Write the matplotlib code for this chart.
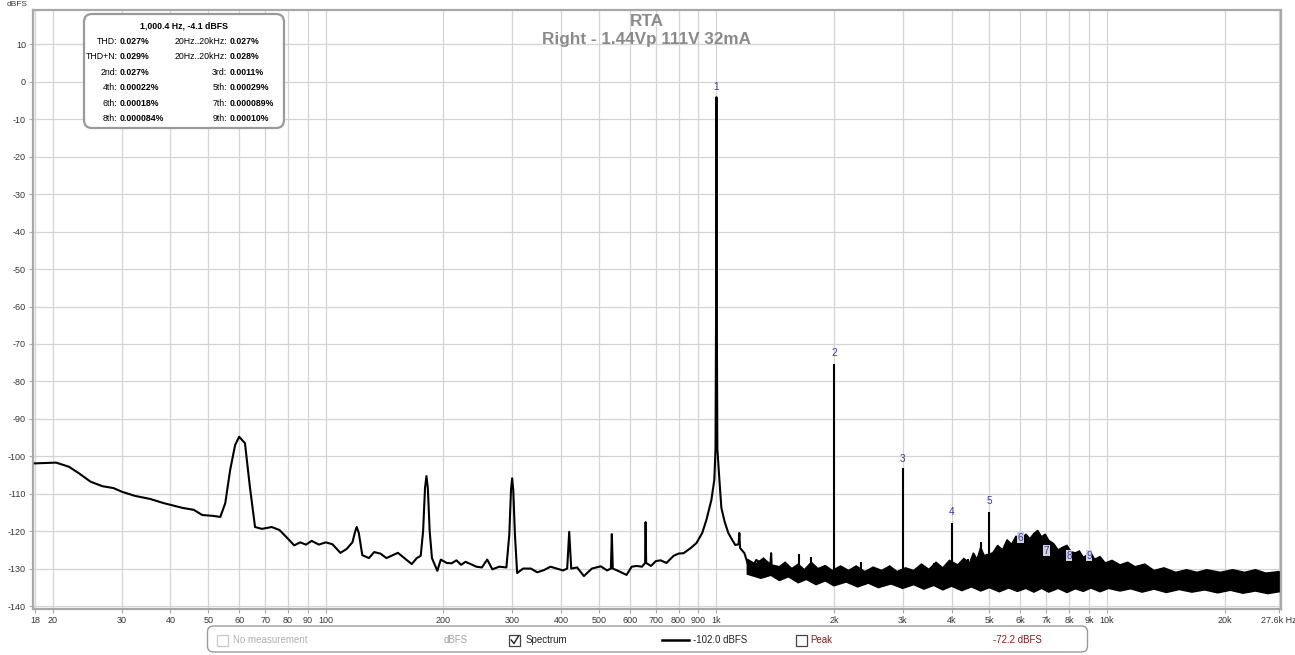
import matplotlib
matplotlib.use("Agg")
import matplotlib.pyplot as plt
from matplotlib.patches import FancyBboxPatch, Rectangle
from matplotlib.lines import Line2D

plt.rcParams['font.family'] = ['Liberation Sans', 'DejaVu Sans']
plt.rcParams['axes.unicode_minus'] = False

# spectrum trace, 18 Hz .. 1.5 kHz
trace_f = [18, 20.4, 22, 23.3, 25, 26.8, 28.6, 30.1, 32.5, 35.5, 38.4, 43, 45.9, 48.3,
           51.2, 53.7, 55.3, 56.9, 58.6, 60, 62.1, 63.9, 65.9, 68.6, 72.7, 76.1, 79.8,
           83, 86, 89, 92, 96, 100, 104, 109, 113, 117, 119, 120, 121.5, 124, 129, 133,
           138, 143, 148, 153, 159, 166, 171, 175, 177.5, 179.5, 181, 182.5, 184.5, 187,
           193, 197, 204, 210, 216, 222, 228, 235, 243, 251, 259, 267, 278, 290, 295,
           298, 300, 302, 305, 309, 320, 335, 348, 362, 376, 390, 405, 415, 420, 425,
           440, 458, 480, 506, 525, 537, 540, 543, 560, 589, 607, 625, 645, 657, 659,
           661, 680, 700, 720, 745, 777, 800, 824, 860, 889, 920, 943, 971, 988, 995,
           998.5, 1000.4, 1002.3, 1006, 1018, 1030, 1050, 1073, 1100, 1118, 1140, 1145,
           1150, 1180, 1221, 1265, 1300, 1340, 1375, 1381, 1387, 1430, 1480]
trace_db = [-101.9, -101.7, -102.8, -104.5, -106.8, -108, -108.5, -109.5, -110.6, -111.4,
            -112.5, -113.8, -114.3, -115.7, -115.9, -116.2, -112.5, -103.7, -97, -94.8,
            -96.5, -108, -118.9, -119.4, -118.9, -119.7, -121.9, -123.8, -123, -123.6,
            -122.6, -123.6, -123, -123.5, -125.8, -124.8, -123, -120, -118.9, -120.5,
            -126.4, -127.2, -125.6, -126, -127.2, -126.5, -125.8, -127.2, -128.8, -127.2,
            -126.6, -120, -108.5, -105.3, -108.5, -120, -127.2, -130.6, -127.6, -128.5,
            -128.6, -127.8, -129, -128.2, -128.8, -129.5, -129.7, -127.6, -130.2, -129.5,
            -129.7, -121, -109, -105.9, -109, -121, -131.2, -130, -130, -131, -130.4,
            -129.5, -130, -130.5, -130, -120.2, -130, -129.7, -132, -130, -129.4, -130.5,
            -130, -120.8, -130, -130.6, -131.7, -129.5, -129.3, -129.5, -128.5, -117.6,
            -128.5, -129.3, -128, -127.8, -128.5, -126.6, -126, -125.9, -124.5, -123.2,
            -120.5, -117, -111.7, -106.3, -98, -60, -4.1, -60, -98, -106.3, -113.8,
            -117.5, -120.5, -122.5, -123.7, -123.5, -120.5, -124.5, -125.9, -130.9,
            -127.7, -128.5, -129.5, -129, -125.9, -130.6, -129.5, -131]

# noise band above 1.2 kHz: upper and lower edge
band_hi_f = [1200, 1260, 1320, 1380, 1450, 1500, 1560, 1620, 1680, 1750, 1820, 1900, 1980,
             2080, 2180, 2280, 2400, 2520, 2650, 2780, 2900, 3050, 3200, 3350, 3500, 3650,
             3800, 3950, 4150, 4300, 4450, 4550, 4650, 4750, 4850, 5100, 5250, 5400, 5550,
             5700, 5850, 6000, 6200, 6350, 6500, 6650, 6800, 6950, 7100, 7300, 7500, 7700,
             7900, 8100, 8300, 8500, 8700, 8900, 9100, 9300, 9600, 9900, 10300, 10800,
             11300, 11800, 12500, 13200, 14000, 15000, 16000, 17000, 18000, 19500, 21000,
             22500, 24000, 25500, 27600]
band_hi = [-127.5, -128.8, -127.2, -129, -129.5, -128.3, -130, -128.8, -130.3, -128.3,
           -130, -129.2, -130.5, -129.3, -130.5, -129.3, -130.8, -129.6, -130.5, -129.3,
           -130.8, -129.8, -130.5, -128.8, -130.2, -128.3, -129.8, -127.8, -129, -127.3,
           -128.5, -125.8, -127.5, -124.3, -126.5, -125.8, -123.8, -125, -122.3, -123.5,
           -121.3, -122.5, -120.8, -122, -120.6, -119.8, -121.5, -120.8, -122.5, -123.3,
           -125, -124.3, -123.8, -125.5, -125.8, -125.3, -127, -126.3, -125.8, -127.5,
           -126.8, -128.5, -127.8, -129, -128.3, -129.5, -128.8, -130.5, -129.8, -131,
           -130.3, -131, -130.3, -131, -130.3, -131, -130.3, -131.2, -130.8]
band_lo_f = [1200, 1300, 1380, 1450, 1530, 1620, 1700, 1800, 1900, 2000, 2150, 2300, 2450,
             2600, 2800, 3000, 3200, 3400, 3600, 3800, 4000, 4250, 4500, 4750, 5000, 5300,
             5600, 5900, 6200, 6500, 6800, 7100, 7500, 7900, 8300, 8700, 9100, 9600, 10100,
             10800, 11500, 12300, 13200, 14200, 15300, 16500, 17800, 19200, 20700, 22300,
             24000, 25800, 27600]
band_lo = [-131.5, -132.6, -131.8, -133.2, -132.2, -133.8, -132.9, -134.3, -133.3, -134.6,
           -133.6, -134.9, -133.9, -135.1, -134.1, -135.3, -134.3, -135.5, -134.5, -135.7,
           -134.7, -135.9, -134.9, -136, -135.1, -136.2, -135.2, -136.1, -135.3, -136.3,
           -135.3, -136.3, -135.3, -136.4, -135.4, -136.1, -135.2, -136.2, -135.3, -136,
           -135.4, -136.3, -135.5, -136.4, -135.6, -136.3, -135.7, -136.5, -135.8, -136.6,
           -136, -136.7, -136.2]

# harmonic peaks and spurs that stick out of the band
spike_f = [1627, 1748, 2000, 2350, 3000, 3600, 4000, 4400, 4770, 5000]
spike_db = [-126.2, -127, -75.3, -128.3, -103.2, -128.5, -117.8, -127.5, -123, -114.9]

# harmonic markers
marker_num = ['1', '2', '3', '4', '5', '6', '7', '8', '9']
marker_f = [1000, 2000, 3000, 4000, 5000, 6000, 7000, 8000, 9000]
marker_db = [-1.3, -72.4, -100.7, -114.9, -111.9, -121.8, -125.3, -126.6, -126.6]

xtick_vals = [18, 20, 30, 40, 50, 60, 70, 80, 90, 100, 200, 300, 400, 500, 600, 700, 800,
              900, 1000, 2000, 3000, 4000, 5000, 6000, 7000, 8000, 9000, 10000, 20000, 27600]
xtick_text = ['18', '20', '30', '40', '50', '60', '70', '80', '90', '100', '200', '300',
              '400', '500', '600', '700', '800', '900', '1k', '2k', '3k', '4k', '5k', '6k',
              '7k', '8k', '9k', '10k', '20k', '27.6k Hz']

info_title = '1,000.4 Hz, -4.1 dBFS'
info_left = [('THD:', '0.027%'), ('THD+N:', '0.029%'), ('2nd:', '0.027%'),
             ('4th:', '0.00022%'), ('6th:', '0.00018%'), ('8th:', '0.000084%')]
info_right = [('20Hz..20kHz:', '0.027%'), ('20Hz..20kHz:', '0.028%'), ('3rd:', '0.0011%'),
              ('5th:', '0.00029%'), ('7th:', '0.000089%'), ('9th:', '0.00010%')]

W, H = 1295, 655
fig = plt.figure(figsize=(W / 100, H / 100), dpi=100)
ax = fig.add_axes([33 / W, 46 / H, (1281 - 33) / W, (609 - 10) / H])

ax.set_xscale('log')
ax.set_xlim(17.8, 27900)
ax.set_ylim(-140.8, 19.2)

# band drawn as a polygon, then the trace and spikes on top
poly_x = band_hi_f + band_lo_f[::-1]
poly_y = band_hi + band_lo[::-1]
ax.fill(poly_x, poly_y, color='black', lw=1.0, zorder=3)
ax.plot(trace_f, trace_db, color='black', lw=1.5, zorder=4)
ax.vlines(spike_f, -133, spike_db, color='black', lw=1.5, zorder=4)

for i in range(len(marker_num)):
    box = None
    if i >= 5:
        box = dict(boxstyle='square,pad=0.05', fc='#d2d2dc', ec='none')
    ax.text(marker_f[i], marker_db[i], marker_num[i], color='#3a3aa8', fontsize=7.2,
            ha='center', va='center', zorder=5, bbox=box)

ax.set_xticks(xtick_vals)
ax.set_xticklabels(xtick_text)
ax.minorticks_off()
ax.set_yticks(range(-140, 11, 10))
ax.tick_params(labelsize=6.5, labelcolor='#333333', length=3, width=0.8, pad=2,
               color='#aaaaaa')
ax.grid(True, color='#d4d4d4', lw=0.9, zorder=0)
ax.set_axisbelow(True)
for s in ax.spines.values():
    s.set_color('#a8a8a8')
    s.set_linewidth(1.6)

fig.text(7 / W, 1 - 5 / H, 'dBFS', fontsize=6, color='#333333', va='center', ha='left')

# title
fig.text(647 / W, 1 - 22 / H, 'RTA', fontsize=12.3, color='#8a8a8a', fontweight='bold',
         ha='center', va='center')
fig.text(647 / W, 1 - 39.5 / H, 'Right - 1.44Vp 111V 32mA', fontsize=12.3, color='#8a8a8a',
         fontweight='bold', ha='center', va='center')

# info box, in pixels via inches
tr = fig.dpi_scale_trans
fig.patches.append(FancyBboxPatch((0.84, (H - 128) / 100), 2.0, 1.14,
                                  boxstyle='round,pad=0,rounding_size=0.08',
                                  fc='white', ec='#9a9a9a', lw=1.6, transform=tr, zorder=5))
fig.text(1.84, (H - 25.5) / 100, info_title, fontsize=6.3, fontweight='bold',
         ha='center', va='center', transform=tr, zorder=6)
rows_y = [42, 56.5, 72.3, 88, 103.3, 118.5]
for k in range(len(rows_y)):
    yy = (H - rows_y[k]) / 100
    fig.text(1.175, yy, info_left[k][0], fontsize=6.3, ha='right', va='center',
             transform=tr, zorder=6)
    fig.text(1.2, yy, info_left[k][1], fontsize=6.3, fontweight='bold', ha='left',
             va='center', transform=tr, zorder=6)
    fig.text(2.27, yy, info_right[k][0], fontsize=6.3, ha='right', va='center',
             transform=tr, zorder=6)
    fig.text(2.30, yy, info_right[k][1], fontsize=6.3, fontweight='bold', ha='left',
             va='center', transform=tr, zorder=6)

# legend bar at the bottom
fig.patches.append(FancyBboxPatch((2.075, (H - 652) / 100), 8.8, 0.26,
                                  boxstyle='round,pad=0,rounding_size=0.06',
                                  fc='white', ec='#9a9a9a', lw=1.0, transform=tr))
ly = (H - 640) / 100
for bx, ec in [(2.17, '#c8c8c8'), (5.09, '#444444'), (7.96, '#444444')]:
    fig.patches.append(Rectangle((bx, ly - 0.055), 0.11, 0.11, fc='white', ec=ec,
                                 lw=0.9, transform=tr))
fig.lines.append(Line2D([5.112, 5.14, 5.185], [ly, ly - 0.035, ly + 0.04], color='#222222',
                        lw=1.0, transform=tr))
fig.text(2.33, ly, 'No measurement', fontsize=7, color='#b0b0b0', va='center', transform=tr)
fig.text(4.44, ly, 'dBFS', fontsize=7, color='#a0a0a0', va='center', transform=tr)
fig.text(5.26, ly, 'Spectrum', fontsize=7, color='#222222', va='center', transform=tr)
fig.lines.append(Line2D([6.62, 6.89], [ly, ly], color='black', lw=1.8, transform=tr))
fig.text(6.93, ly, '-102.0 dBFS', fontsize=7, color='#222222', va='center', transform=tr)
fig.text(8.10, ly, 'Peak', fontsize=7, color='#8b1a1a', va='center', transform=tr)
fig.text(9.93, ly, '-72.2 dBFS', fontsize=7, color='#8b1a1a', va='center', transform=tr)

fig.savefig('out.png', dpi=100)
